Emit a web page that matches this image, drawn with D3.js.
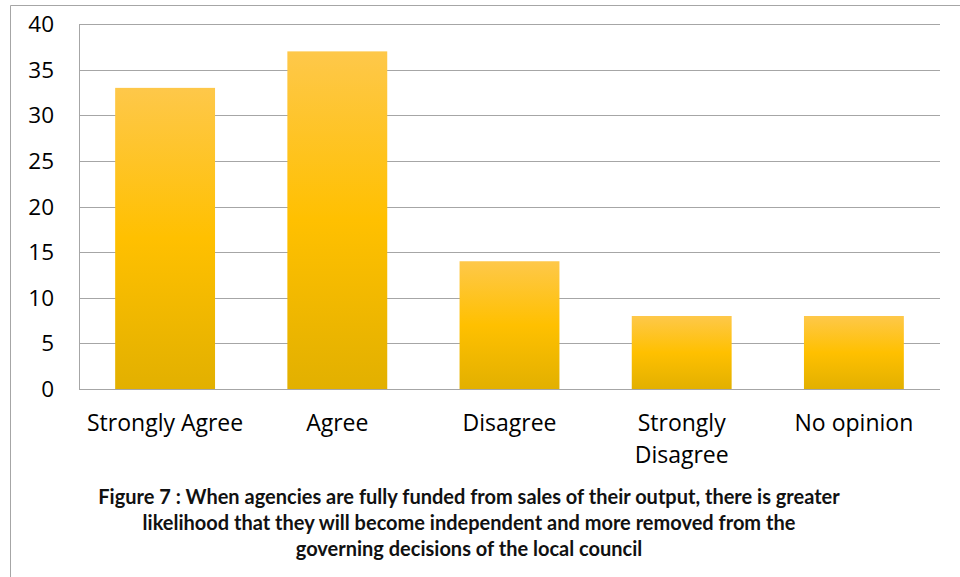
<!DOCTYPE html>
<html>
<head>
<meta charset="utf-8">
<script src="https://cdn.jsdelivr.net/npm/d3@7"></script>
<style>
  body { margin: 0; background: #fff; }
  text { font-family: "Open Sans", sans-serif; }
  text.caption { font-family: Lato, sans-serif; }
</style>
</head>
<body>
<div id="chart"></div>
<script>
const width = 960;
const height = 577;

// chart data
const categories = ["Strongly Agree", "Agree", "Disagree", "Strongly Disagree", "No opinion"];
const values = [33, 37, 14, 8, 8];
const yTicks = [0, 5, 10, 15, 20, 25, 30, 35, 40];
const caption = [
    "Figure 7 : When agencies are fully funded from sales of their output, there is greater",
    "likelihood that they will become independent and more removed from the",
    "governing decisions of the local council"
];

const plot = { left: 79, right: 940, top: 24, bottom: 389 };

const svg = d3.select("#chart").append("svg")
    .attr("width", width)
    .attr("height", height);

// gold gradient for bars
const grad = svg.append("defs").append("linearGradient")
    .attr("id", "gold")
    .attr("x1", 0).attr("y1", 0).attr("x2", 0).attr("y2", 1);
grad.append("stop").attr("offset", "0%").attr("stop-color", "#fec84a");
grad.append("stop").attr("offset", "50%").attr("stop-color", "#ffc000");
grad.append("stop").attr("offset", "100%").attr("stop-color", "#e2b000");

// outer frame
svg.append("path")
    .attr("d", "M10.5,577 V5.5 H960")
    .attr("fill", "none")
    .attr("stroke", "#a6a6a6");

const x = d3.scaleBand()
    .domain(categories)
    .range([plot.left, plot.right])
    .paddingInner(0.42)
    .paddingOuter(0.21);

const y = d3.scaleLinear()
    .domain([0, 40])
    .range([plot.bottom, plot.top]);

// gridlines
svg.append("g").selectAll("line")
    .data(yTicks)
    .enter().append("line")
    .attr("x1", plot.left)
    .attr("x2", plot.right)
    .attr("y1", d => Math.round(y(d)) + 0.5)
    .attr("y2", d => Math.round(y(d)) + 0.5)
    .attr("stroke", "#a6a6a6")
    .attr("stroke-width", 1);

// left axis line
svg.append("line")
    .attr("x1", plot.left + 0.5).attr("x2", plot.left + 0.5)
    .attr("y1", plot.top).attr("y2", plot.bottom + 0.5)
    .attr("stroke", "#a6a6a6");

// bars
svg.append("g").selectAll("rect")
    .data(values)
    .enter().append("rect")
    .attr("x", (d, i) => x(categories[i]))
    .attr("y", d => y(d))
    .attr("width", x.bandwidth())
    .attr("height", d => y(0) - y(d))
    .attr("fill", "url(#gold)");

// y tick labels
svg.append("g").selectAll("text")
    .data(yTicks)
    .enter().append("text")
    .attr("x", 54)
    .attr("y", d => y(d))
    .attr("dy", "0.36em")
    .attr("text-anchor", "end")
    .attr("font-size", 22.5)
    .attr("fill", "#000")
    .text(d => d);

// x labels, wrapping "Strongly Disagree"
const xl = svg.append("g").selectAll("text")
    .data(categories)
    .enter().append("text")
    .attr("text-anchor", "middle")
    .attr("font-size", 23)
    .attr("fill", "#000")
    .attr("transform", d => `translate(${x(d) + x.bandwidth() / 2},431)`);

xl.each(function(d) {
    const lines = d === "Strongly Disagree" ? ["Strongly", "Disagree"] : [d];
    d3.select(this).selectAll("tspan")
        .data(lines)
        .enter().append("tspan")
        .attr("x", 0)
        .attr("dy", (l, i) => i === 0 ? 0 : 32)
        .text(l => l);
});

// caption
svg.append("g").selectAll("text")
    .data(caption)
    .enter().append("text")
    .attr("class", "caption")
    .attr("x", 469)
    .attr("y", (d, i) => 504 + i * 26)
    .attr("text-anchor", "middle")
    .attr("font-size", 20)
    .attr("font-weight", "bold")
    .attr("fill", "#111")
    .text(d => d);
</script>
</body>
</html>
